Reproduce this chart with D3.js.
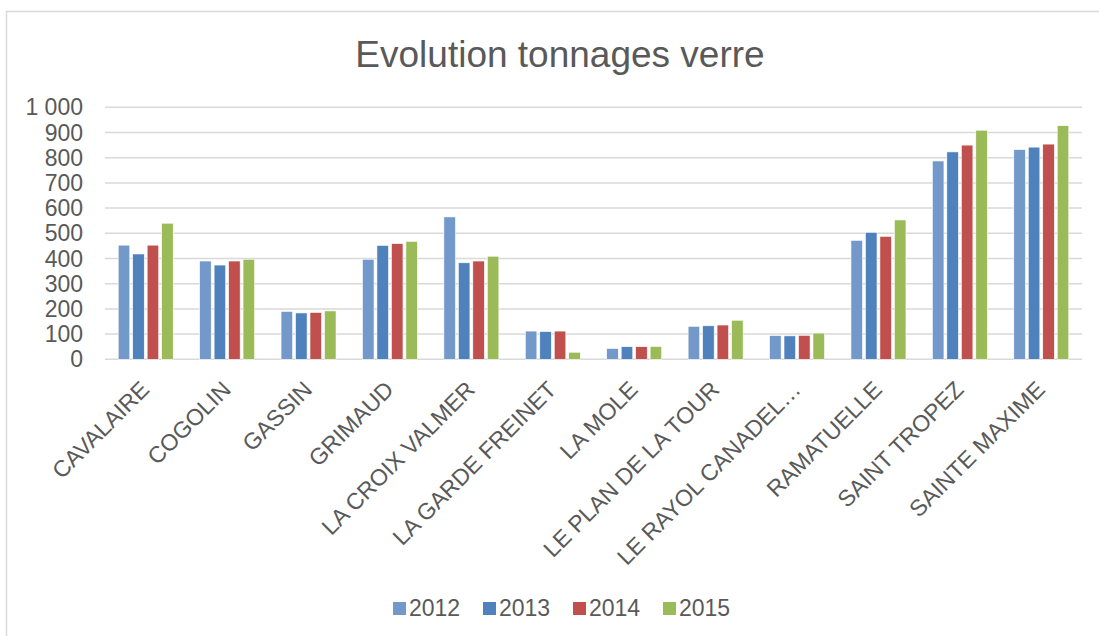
<!DOCTYPE html>
<html>
<head>
<meta charset="utf-8">
<script src="https://cdn.jsdelivr.net/npm/d3@7"></script>
<style>
  body { margin: 0; background: #fff; }
  svg text { font-family: "Liberation Sans", Arial, sans-serif; fill: #595959; }
</style>
</head>
<body>
<div id="chart"></div>
<script>
// categories and series
const communes = ['CAVALAIRE', 'COGOLIN', 'GASSIN', 'GRIMAUD', 'LA CROIX VALMER', 'LA GARDE FREINET',
    'LA MOLE', 'LE PLAN DE LA TOUR', 'LE RAYOL CANADEL…', 'RAMATUELLE', 'SAINT TROPEZ', 'SAINTE MAXIME'];
const years = ['2012', '2013', '2014', '2015'];
const v2012 = [453, 390, 190, 397, 565, 112, 43, 131, 94, 472, 787, 832];
const v2013 = [418, 374, 184, 452, 383, 110, 50, 133, 93, 504, 823, 842];
const v2014 = [453, 390, 186, 459, 390, 112, 50, 136, 95, 488, 850, 854];
const v2015 = [540, 397, 192, 468, 409, 28, 51, 155, 104, 553, 909, 927];
const yTicks = [0, 100, 200, 300, 400, 500, 600, 700, 800, 900, 1000];
const colors = ['#7399CB', '#4F81BD', '#C0504D', '#9BBB59'];

const series = [v2012, v2013, v2014, v2015];
const W = 1099, H = 636;
const plotLeft = 105, plotRight = 1082, plotTop = 107.3, plotBottom = 359.3;

const svg = d3.select('#chart').append('svg')
    .attr('width', W)
    .attr('height', H);

// chart border (only left/top visible in the picture)
svg.append('rect')
    .attr('x', 6.5).attr('y', 11.5)
    .attr('width', W + 10).attr('height', H + 10)
    .attr('fill', 'none')
    .attr('stroke', '#D9D9D9')
    .attr('stroke-width', 1.5);

svg.append('text')
    .attr('x', 560).attr('y', 67)
    .attr('text-anchor', 'middle')
    .style('font-size', '37px')
    .text('Evolution tonnages verre');

const x0 = d3.scaleBand().domain(communes).range([plotLeft, plotRight]);
const groupW = 55;
const x1 = d3.scaleBand().domain(years).range([0, groupW]).paddingInner(0.2);
const y = d3.scaleLinear().domain([0, 1000]).range([plotBottom, plotTop]);

// gridlines
svg.selectAll('.grid')
    .data(yTicks)
    .enter().append('line')
    .attr('class', 'grid')
    .attr('x1', plotLeft).attr('x2', plotRight)
    .attr('y1', d => y(d)).attr('y2', d => y(d))
    .style('stroke', '#D9D9D9')
    .style('stroke-width', 1.5);

// y labels
const fmt = d => d >= 1000 ? d3.format(',')(d).replace(',', ' ') : String(d);
svg.selectAll('.ylab')
    .data(yTicks)
    .enter().append('text')
    .attr('class', 'ylab')
    .attr('x', 83)
    .attr('y', d => y(d) + 8)
    .attr('text-anchor', 'end')
    .style('font-size', '23px')
    .text(fmt);

// bars
const groups = svg.selectAll('.grp')
    .data(communes)
    .enter().append('g')
    .attr('class', 'grp')
    .attr('transform', d => `translate(${x0(d) + (x0.bandwidth() - groupW) / 2},0)`);

groups.selectAll('rect')
    .data((c, i) => years.map((yr, k) => ({ yr: yr, v: series[k][i], k: k })))
    .enter().append('rect')
    .attr('x', d => x1(d.yr))
    .attr('width', x1.bandwidth())
    .attr('y', d => y(d.v))
    .attr('height', d => y(0) - y(d.v))
    .style('fill', d => colors[d.k])
    .style('stroke', '#fff')
    .style('stroke-width', 0.6);

// category labels
svg.selectAll('.xlab')
    .data(communes)
    .enter().append('text')
    .attr('class', 'xlab')
    .attr('text-anchor', 'end')
    .attr('transform', d => `translate(${x0(d) + x0.bandwidth() / 2 + 5},${391}) rotate(-45)`)
    .style('font-size', '23px')
    .text(d => d);

// legend
const leg = svg.selectAll('.leg')
    .data(years)
    .enter().append('g')
    .attr('class', 'leg')
    .attr('transform', (d, i) => `translate(${393 + i * 90},602)`);
leg.append('rect')
    .attr('width', 13).attr('height', 13)
    .style('fill', (d, i) => colors[i]);
leg.append('text')
    .attr('x', 16).attr('y', 14)
    .style('font-size', '23px')
    .text(d => d);
</script>
</body>
</html>
